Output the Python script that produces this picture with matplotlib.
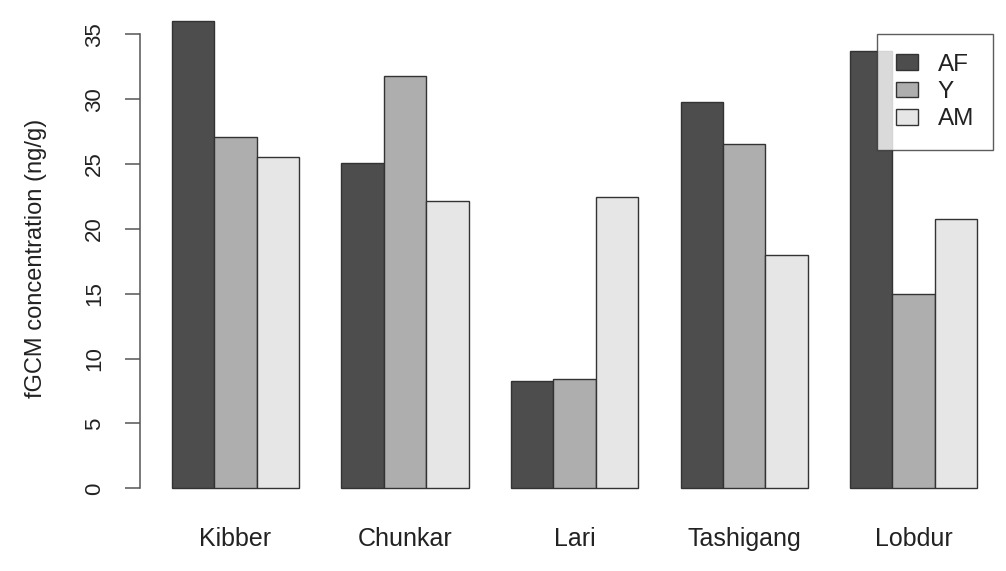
import numpy as np
import matplotlib.pyplot as plt

# data
sites = ['Kibber', 'Chunkar', 'Lari', 'Tashigang', 'Lobdur']
groups = ['AF', 'Y', 'AM']
af = [36.05, 25.1, 8.3, 29.8, 33.7]
y = [27.05, 31.8, 8.45, 26.55, 14.95]
am = [25.55, 22.15, 22.45, 18.0, 20.8]
colors = ['#4D4D4D', '#AEAEAE', '#E6E6E6']

plt.rcParams['font.family'] = ['Liberation Sans', 'DejaVu Sans']

W, H = 1006, 571
fig = plt.figure(figsize=(W / 100, H / 100), dpi=100)
left_px, bottom_px = 139.5, 507
ax = fig.add_axes([left_px / W, (H - bottom_px) / H, (W - left_px) / W, bottom_px / H])

# R style barplot, beside=TRUE, one bar of space before each group
starts = 1 + 4 * np.arange(len(sites))
for i, (vals, lab) in enumerate(zip([af, y, am], groups)):
    ax.bar(starts + i, vals, width=1, align='edge', color=colors[i],
           edgecolor='#333333', linewidth=1.0, label=lab)

ax.set_xlim(0.24, 20.677)
ax.set_ylim(-1.44, 37.65)

for s in ['top', 'right', 'bottom']:
    ax.spines[s].set_visible(False)
ax.spines['left'].set_bounds(0, 35)
ax.spines['left'].set_color('#555555')
ax.spines['left'].set_linewidth(1.1)

ax.set_yticks(np.arange(0, 36, 5))
ax.tick_params(axis='y', length=10.8, width=1.1, color='#555555', pad=14,
               labelsize=16, labelcolor='#222222')
for t in ax.get_yticklabels():
    t.set_rotation(90)
    t.set_va('center')

ax.set_xticks(starts + 1.5)
ax.set_xticklabels(sites)
ax.tick_params(axis='x', length=0, pad=14.5, labelsize=18, labelcolor='#222222')

fig.text(36 / W, 1 - 258.5 / H, 'fGCM concentration (ng/g)', rotation=90,
         ha='center', va='center', fontsize=17, color='#222222')

leg = ax.legend(loc='upper right', bbox_to_anchor=((993.3 - left_px) / (W - left_px), 1 - 34.3 / bottom_px),
                borderaxespad=0, fontsize=17.5, frameon=True, fancybox=False,
                handlelength=0.9, handleheight=0.6, handletextpad=0.8,
                labelspacing=0.22, borderpad=0.8)
leg.get_frame().set_edgecolor('#333333')
leg.get_frame().set_linewidth(1.0)
for t in leg.get_texts():
    t.set_color('#222222')

fig.savefig('out.png', dpi=100)
